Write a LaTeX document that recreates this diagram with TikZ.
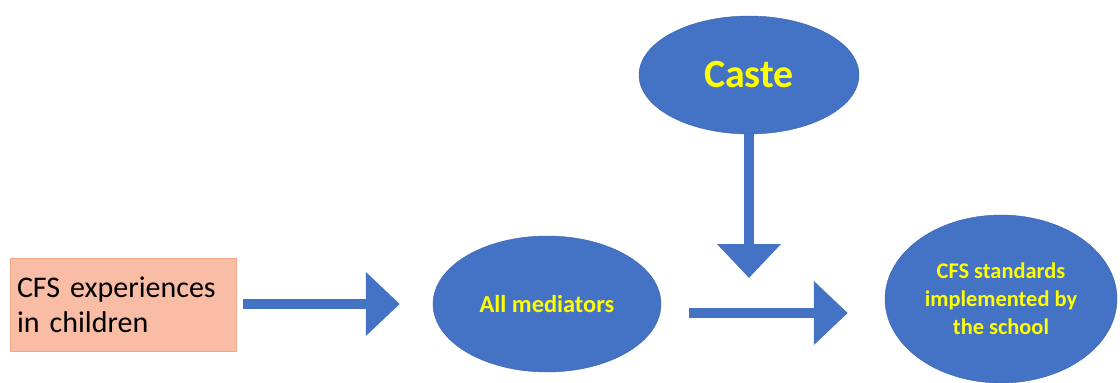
\documentclass[tikz,border=0pt]{standalone}
\usepackage{fontspec}
\setmainfont{Carlito}
\usetikzlibrary{arrows.meta, shapes.geometric}
\definecolor{oblue}{HTML}{4472C4}
\definecolor{oblueline}{HTML}{3A64AE}
\definecolor{salmon}{HTML}{F8BDA4}
\definecolor{salmonline}{HTML}{F2A886}
\definecolor{ylw}{HTML}{FFFF00}
\begin{document}
\begin{tikzpicture}[x=1pt, y=-1pt,
        blob/.style={ellipse, draw=oblueline, fill=oblue, text=ylw, inner sep=0pt, align=center, font=\bfseries},
        fat/.style={draw=oblue, line width=10pt, -{Triangle[width=62pt, length=34pt]}}]
        \useasboundingbox (0, 0) rectangle (1120, 383);

        \node[draw=salmonline, fill=salmon, minimum width=226pt, minimum height=93pt, text width=212pt, align=left, inner sep=7pt, font=\fontsize{30}{35}\selectfont] (exp) at (123, 305) {CFS experiences\\in children};
        \node[blob, minimum width=228pt, minimum height=136pt, font=\bfseries\fontsize{24.4}{28}\selectfont] (med) at (547, 304) {All mediators};
        \node[blob, minimum width=220pt, minimum height=118pt, font=\bfseries\fontsize{40}{46}\selectfont] (caste) at (749, 75) {Caste};
        \node[blob, minimum width=232pt, minimum height=168pt, font=\bfseries\fontsize{22.4}{28}\selectfont] (std) at (1001, 299) {CFS standards\\implemented by\\the school};

        \coordinate (meet) at (749, 313);

        \draw[fat, shorten <=7pt, shorten >=33pt] (exp.east |- med) -- (med.west);
        \draw[fat, shorten <=28pt, shorten >=37pt] (med.east |- meet) -- (std.west |- meet);
        \draw[fat, shorten >=35pt] (caste.south) -- (meet);
    \end{tikzpicture}
\end{document}
